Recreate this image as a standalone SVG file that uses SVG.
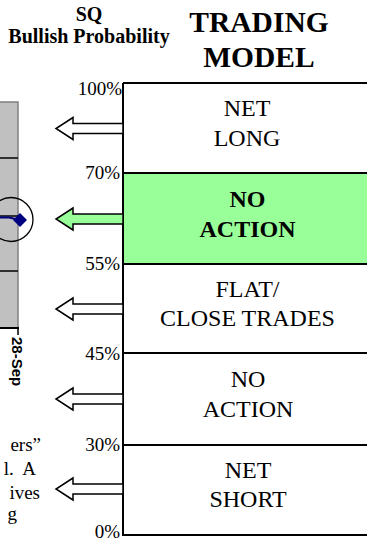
<svg xmlns="http://www.w3.org/2000/svg" width="367" height="541" viewBox="0 0 367 541">
<style>
.t{font-family:"Liberation Serif","Times New Roman",serif;fill:#000}
.b{font-weight:bold}
.lbl{font-size:24px;text-anchor:middle}
.pct{font-size:19px;text-anchor:end}
.hl{stroke:#000;stroke-width:2;fill:none}
.arr{stroke:#000;stroke-width:1.5;fill:#fff;stroke-linejoin:miter}
.grid{stroke:#000;stroke-width:1.5}
</style>
<rect width="367" height="541" fill="#fff"/>
<g id="titles">
<text class="t b" x="89" y="21" font-size="20" text-anchor="middle">SQ</text>
<text class="t b" x="89" y="43" font-size="20" text-anchor="middle">Bullish Probability</text>
<text class="t b" x="259" y="32" font-size="29.5" text-anchor="middle">TRADING</text>
<text class="t b" x="259" y="67" font-size="29.5" text-anchor="middle">MODEL</text>
</g>
<g id="chart">
<rect x="-2" y="102" width="20" height="226" fill="#c0c0c0" stroke="#808080" stroke-width="1.5"/>
<line class="grid" x1="0" y1="158" x2="18" y2="158"/>
<line class="grid" x1="0" y1="216" x2="18" y2="216"/>
<line class="grid" x1="0" y1="271" x2="18" y2="271"/>
<line x1="0" y1="328" x2="19" y2="328" stroke="#000" stroke-width="2"/>
<line x1="18" y1="328" x2="18" y2="335" stroke="#000" stroke-width="1.5"/>
<polyline points="0,217.5 9,217.5 20,220" fill="none" stroke="#000080" stroke-width="2"/>
<polygon points="20,213 27,220 20,227 13,220" fill="#000080"/>
<circle cx="11" cy="219.5" r="22" fill="none" stroke="#000" stroke-width="1.3"/>
<text x="0" y="0" transform="translate(12,337) rotate(90)" font-family="Liberation Sans,Arial,sans-serif" font-weight="bold" font-size="15" fill="#000">28-Sep</text>
</g>
<g id="note">
<text class="t" x="41" y="451" font-size="19" text-anchor="end">ers”</text>
<text class="t" x="36" y="475" font-size="19" text-anchor="end" xml:space="preserve">l.  A</text>
<text class="t" x="40" y="499" font-size="19" text-anchor="end">ives</text>
<text class="t" x="17" y="520" font-size="19" text-anchor="end">g</text>
</g>
<g id="model">
<rect x="123" y="173" width="250" height="91" fill="#99ff99"/>
<line class="hl" x1="123" y1="83" x2="367" y2="83"/>
<line class="hl" x1="123" y1="173" x2="367" y2="173"/>
<line class="hl" x1="123" y1="264" x2="367" y2="264"/>
<line class="hl" x1="123" y1="353" x2="367" y2="353"/>
<line class="hl" x1="123" y1="445" x2="367" y2="445"/>
<line class="hl" x1="123" y1="535" x2="367" y2="535"/>
<line class="hl" x1="123" y1="83" x2="123" y2="536"/>
</g>
<g id="scale">
<text class="t pct" x="122" y="95">100%</text>
<text class="t pct" x="120" y="179">70%</text>
<text class="t pct" x="120" y="270">55%</text>
<text class="t pct" x="120" y="360">45%</text>
<text class="t pct" x="120" y="451">30%</text>
<text class="t pct" x="120" y="538">0%</text>
</g>
<g id="net-long">
<text class="t lbl" x="247" y="116">NET</text>
<text class="t lbl" x="247" y="146">LONG</text>
</g>
<g id="no-action-1">
<text class="t lbl b" x="247.5" y="207">NO</text>
<text class="t lbl b" x="247.5" y="237">ACTION</text>
</g>
<g id="flat-close">
<text class="t lbl" x="247.5" y="297">FLAT/</text>
<text class="t lbl" x="247.5" y="326">CLOSE TRADES</text>
</g>
<g id="no-action-2">
<text class="t lbl" x="248" y="387">NO</text>
<text class="t lbl" x="248" y="417">ACTION</text>
</g>
<g id="net-short">
<text class="t lbl" x="248" y="478">NET</text>
<text class="t lbl" x="248" y="507">SHORT</text>
</g>
<g id="connectors">
<polygon class="arr" points="123,123.5 73,123.5 73,117.5 56,128.5 73,139.5 73,133.5 123,133.5"/>
<polygon class="arr" style="fill:#99ff99" points="123,214 73,214 73,208 56,219 73,230 73,224 123,224"/>
<polygon class="arr" points="123,304 73,304 73,298 56,309 73,320 73,314 123,314"/>
<polygon class="arr" points="123,394 73,394 73,388 56,399 73,410 73,404 123,404"/>
<polygon class="arr" points="123,484 73,484 73,478 56,489 73,500 73,494 123,494"/>
</g>
</svg>
